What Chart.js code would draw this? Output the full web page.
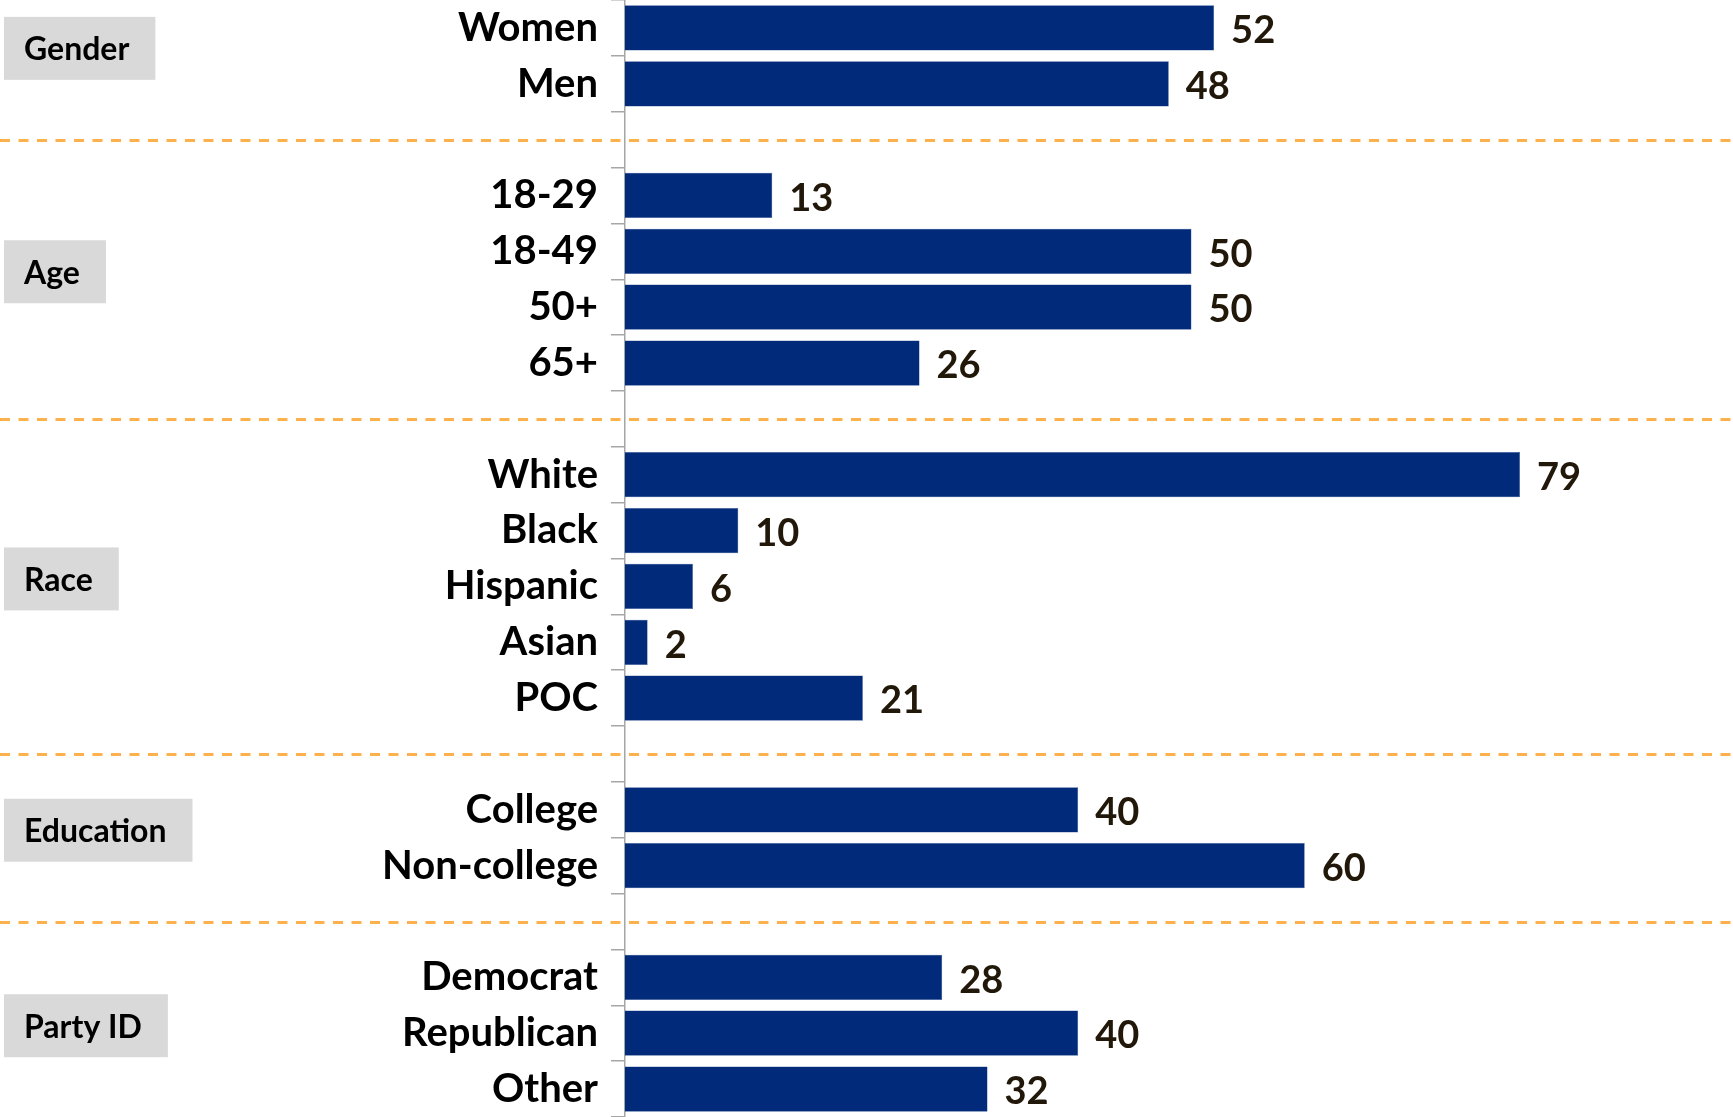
<!DOCTYPE html>
<html>
<head>
<meta charset="utf-8">
<script src="https://cdn.jsdelivr.net/npm/chart.js"></script>
<style>
  html, body { margin: 0; padding: 0; background: #fff; }
  #wrap { width: 1733px; height: 1117px; position: relative; }
</style>
</head>
<body>
<div id="wrap"><canvas id="demoChart"></canvas></div>
<script>
const categories = ['Women', 'Men', '', '18-29', '18-49', '50+', '65+', '', 'White', 'Black', 'Hispanic', 'Asian', 'POC', '', 'College', 'Non-college', '', 'Democrat', 'Republican', 'Other'];
const shares = [52, 48, null, 13, 50, 50, 26, null, 79, 10, 6, 2, 21, null, 40, 60, null, 28, 40, 32];
const groupNames = ['Gender', 'Age', 'Race', 'Education', 'Party ID'];
const groupRows = [[0, 1], [3, 6], [8, 12], [14, 15], [17, 19]];
const separatorRows = [2, 7, 13, 16];

const FONT = 'Lato, "Open Sans", sans-serif';

// dashed separators, grey group boxes and value labels
const extras = {
  id: 'extras',
  afterDatasetsDraw(chart) {
    const ctx = chart.ctx;
    const y = chart.scales.y;
    const meta = chart.getDatasetMeta(0);

    ctx.save();
    ctx.strokeStyle = '#fcb14c';
    ctx.lineWidth = 3;
    ctx.setLineDash([10, 8.5]);
    separatorRows.forEach(r => {
      const py = Math.round(y.getPixelForValue(r)) + 0.5;
      ctx.beginPath();
      ctx.moveTo(0, py);
      ctx.lineTo(chart.width, py);
      ctx.stroke();
    });
    ctx.restore();

    ctx.save();
    ctx.font = 'bold 38px ' + FONT;
    ctx.fillStyle = '#21180a';
    ctx.textBaseline = 'middle';
    meta.data.forEach((bar, i) => {
      if (shares[i] == null) return;
      ctx.fillText(shares[i], bar.x + 17, bar.y + 3);
    });
    ctx.restore();

    ctx.save();
    ctx.font = 'bold 32px ' + FONT;
    ctx.textBaseline = 'middle';
    groupNames.forEach((name, g) => {
      const [a, b] = groupRows[g];
      const cy = (y.getPixelForValue(a) + y.getPixelForValue(b)) / 2 - 8;
      const w = ctx.measureText(name).width + 46;
      ctx.fillStyle = '#d9d9d9';
      ctx.fillRect(4, cy - 31, w, 63);
      ctx.fillStyle = '#000';
      ctx.fillText(name, 24, cy + 2);
    });
    ctx.restore();
  }
};

new Chart(document.getElementById('demoChart').getContext('2d'), {
  type: 'bar',
  data: {
    labels: categories,
    datasets: [{
      data: shares,
      backgroundColor: '#012a7a',
      borderColor: '#3a5a98',
      borderWidth: 0.5,
      categoryPercentage: 1,
      barPercentage: 0.81
    }]
  },
  options: {
    indexAxis: 'y',
    responsive: true,
    maintainAspectRatio: false,
    animation: false,
    layout: { padding: 0 },
    plugins: {
      legend: { display: false },
      tooltip: { enabled: false }
    },
    scales: {
      x: {
        display: false,
        min: 0,
        max: 97.8
      },
      y: {
        afterFit(scale) {
          scale.width = 625;
          scale.paddingTop = 0;
          scale.paddingBottom = 0;
        },
        border: { color: '#a6a6a6', width: 1.5 },
        grid: {
          offset: true,
          drawOnChartArea: false,
          tickLength: 14,
          color: '#a6a6a6',
          lineWidth: 1.5
        },
        ticks: {
          padding: 13,
          color: '#000',
          font: { family: FONT, size: 40, weight: 'bold' }
        }
      }
    }
  },
  plugins: [extras]
});
</script>
</body>
</html>
